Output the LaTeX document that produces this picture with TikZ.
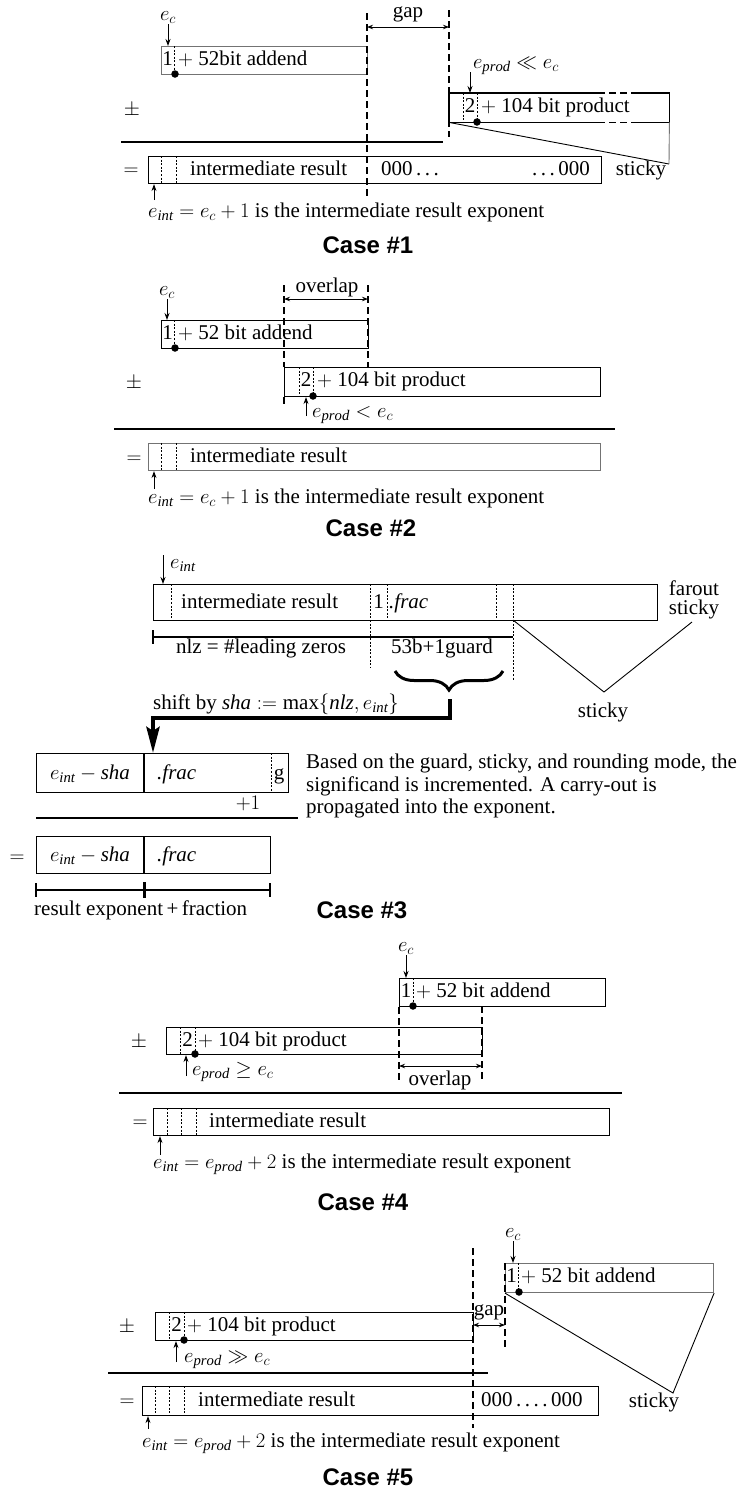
\documentclass[tikz,border=0pt]{standalone}
\usepackage{fontspec}
\setmainfont{Liberation Serif}
\newfontfamily\headfont{Liberation Sans}
\usetikzlibrary{arrows.meta,decorations.pathreplacing,calc}
\tikzset{
  txt/.style={inner sep=0pt, font=\fontsize{21}{24}\selectfont, text height=14pt, text depth=4pt},
  para/.style={inner sep=0pt, font=\fontsize{21}{24}\selectfont, anchor=base west},
  frame/.style={draw, line width=1.1pt, inner sep=0pt, anchor=north west},
  hollow/.style={inner sep=0pt, anchor=north west},
  edge/.style={line width=1.1pt},
  thin/.style={line width=0.9pt},
  sep/.style={dash pattern=on 2pt off 1.6pt, line width=0.9pt},
  guide/.style={dash pattern=on 7pt off 4pt, line width=1.1pt},
  pin/.style={-{Stealth[length=7pt,width=5pt]}, line width=0.9pt},
  span/.style={{Stealth[length=6pt,width=4.5pt]}-{Stealth[length=6pt,width=4.5pt]}, line width=0.9pt},
  bit/.style={circle, fill, inner sep=0pt, minimum size=7.5pt},
  head/.style={inner sep=0pt, font=\headfont\bfseries\fontsize{24}{28}\selectfont},
  rule/.style={line width=1.1pt},
  faint/.style={draw=black!55},
}
\begin{document}
\begin{tikzpicture}[x=1pt,y=-1pt]
\useasboundingbox[fill=white] (0,0) rectangle (755,1489);

%% ---------------- Case 1 ----------------
\node[txt] (c1ec) at (168,15) {$e_c$};
\node[frame, faint, minimum width=206pt, minimum height=28pt] (c1add) at (161,46) {};
\draw[pin] (c1ec.south) -- (c1ec.south |- c1add.north);
\draw[sep] (174,46) -- (174,74);
\node[txt] (c1one) at (167.5,60) {1};
\node[txt, anchor=west] (c1addt) at (178,60) {$+$ 52bit addend};
\node[bit] (c1d1) at (175,74) {};
\coordinate (c1ga) at (367,13);
\coordinate (c1gb) at (449,10);
\draw[guide] (c1ga) -- (367,197);
\draw[guide] (c1gb) -- (449,137);
\draw[span] (367,27) -- (449,27);
\node[txt] (c1gap) at (408,12) {gap};
\node[txt] (c1ep) at (516,63) {$e_{\mathit{prod}} \ll e_c$};
\node[hollow, minimum width=220pt, minimum height=29pt] (c1prod) at (449,93) {};
\draw[edge] ($(c1prod.north west)+(149,0)$) -- (c1prod.north west) -- (c1prod.south west) -- ++(149,0);
\draw[edge] ($(c1prod.north east)+(-37,0)$) -- (c1prod.north east) -- (c1prod.south east) -- ++(-37,0);
\draw[guide] ($(c1prod.north west)+(149,0)$) -- ++(34,0);
\draw[guide] ($(c1prod.south west)+(149,0)$) -- ++(34,0);
\coordinate (c1pa) at (470,72);
\draw[pin] (c1pa) -- (c1pa |- c1prod.north);
\draw[sep] (463,93) -- (463,122);
\draw[sep] (477,93) -- (477,122);
\node[txt] (c1two) at (470,107.5) {2};
\node[txt, anchor=west] (c1prodt) at (481,107.5) {$+$ 104 bit product};
\node[bit] (c1d2) at (477,122) {};
\coordinate (c1st) at (669,164);
\draw[thin] (c1prod.south west) -- (c1st);
\draw[thin, faint] (c1prod.south east) -- (c1st);
\node[txt] (c1stick) at (641,170) {sticky};
\node[txt] (c1pm) at (132,110) {$\pm$};
\draw[rule] (121,142) -- (443,142);
\node[txt] (c1eq) at (131,170) {$=$};
\node[frame, minimum width=453pt, minimum height=27pt] (c1res) at (148,156) {};
\draw[sep] (161,156) -- (161,183);
\draw[sep] (176,156) -- (176,183);
\node[txt, anchor=west] (c1rt) at (190,170) {intermediate result};
\node[txt, anchor=west] (c1z1) at (381,170) {000\,.\,.\,.};
\node[txt, anchor=east] (c1z2) at (590,170) {.\,.\,.\,000};
\coordinate (c1up) at (154,200);
\draw[pin] (c1up) -- (c1up |- c1res.south);
\node[txt, anchor=west] (c1eint) at (148,212) {$e_{\mathit{int}} = e_c + 1$ is the intermediate result exponent};
\node[head] (c1cap) at (368,245) {Case \#1};

%% ---------------- Case 2 ----------------
\node[txt] (c2ec) at (167,290) {$e_c$};
\node[frame, minimum width=207pt, minimum height=28pt] (c2add) at (161,320) {};
\draw[pin] (c2ec.south) -- (c2ec.south |- c2add.north);
\draw[sep] (174,320) -- (174,348);
\node[txt] (c2one) at (167.5,334) {1};
\node[txt, anchor=west] (c2addt) at (178,334) {$+$ 52 bit addend};
\node[bit] (c2d1) at (175,348) {};
\node[frame, minimum width=316pt, minimum height=29pt] (c2prod) at (284,367) {};
\coordinate (c2oa) at (284,285);
\coordinate (c2ob) at (368,285);
\draw[guide] (c2oa) -- (c2oa |- c2prod.north);
\draw[guide] (c2ob) -- (c2ob |- c2prod.north);
\draw[edge] (c2prod.south west) -- ++(0,7);
\draw[span] (284,299) -- (368,299);
\node[txt] (c2ov) at (327,287) {overlap};
\draw[sep] (299,367) -- (299,396);
\draw[sep] (313,367) -- (313,396);
\node[txt] (c2two) at (306,381.5) {2};
\node[txt, anchor=west] (c2prodt) at (317,381.5) {$+$ 104 bit product};
\node[bit] (c2d2) at (313,396) {};
\coordinate (c2pa) at (306,416);
\draw[pin] (c2pa) -- (c2pa |- c2prod.south);
\node[txt, anchor=west] (c2ep) at (312,412) {$e_{\mathit{prod}} < e_c$};
\node[txt] (c2pm) at (134,383) {$\pm$};
\draw[rule] (114,429) -- (615,429);
\node[txt] (c2eq) at (134,458) {$=$};
\node[frame, faint, minimum width=452pt, minimum height=27pt] (c2res) at (148,443) {};
\draw[sep] (161,443) -- (161,470);
\draw[sep] (176,443) -- (176,470);
\node[txt, anchor=west] (c2rt) at (190,457) {intermediate result};
\coordinate (c2up) at (154,489);
\draw[pin] (c2up) -- (c2up |- c2res.south);
\node[txt, anchor=west] (c2eint) at (148,498) {$e_{\mathit{int}} = e_c + 1$ is the intermediate result exponent};
\node[head] (c2cap) at (371,528) {Case \#2};

%% ---------------- Case 3 ----------------
\node[frame, minimum width=504pt, minimum height=36pt] (c3box) at (153,584) {};
\coordinate (c3ea) at (163,555);
\draw[pin] (c3ea) -- (c3ea |- c3box.north);
\node[txt, anchor=west] (c3ei) at (170,563) {$e_{\mathit{int}}$};
\draw[sep] (171,584) -- (171,620);
\draw[sep] (370,584) -- (370,668);
\draw[sep] (387,584) -- (387,620);
\draw[sep] (496,584) -- (496,620);
\draw[sep] (513,584) -- (513,680);
\node[txt, anchor=west] (c3rt) at (181,603) {intermediate result};
\node[txt] (c3one) at (378.5,603) {1};
\node[txt, anchor=west] (c3fr) at (389,603) {\itshape .frac};
\node[txt] (c3far) at (694,590) {farout};
\node[txt] (c3fst) at (694,609) {sticky};
\draw[edge] (153,637) -- (513,637);
\draw[edge] (153,630) -- (153,644);
\node[txt] (c3nlz) at (261,648) {nlz = \#leading zeros};
\node[txt] (c3g) at (442,648) {53b+1guard};
\draw[decorate, decoration={brace, mirror, amplitude=19pt}, line width=3pt] (395,671) -- (503,671);
\coordinate (c3tip) at (450,699);
\coordinate (c3v) at (604,692);
\draw[thin] (513,620) -- (c3v) -- (692,622);
\node[txt] (c3st) at (603,712) {sticky};
\node[txt, anchor=west] (c3sh) at (153,704) {shift by $\mathit{sha} := \max\{\mathit{nlz}, e_{\mathit{int}}\}$};
\node[frame, minimum width=252pt, minimum height=39pt] (c3a) at (36,753) {};
\coordinate (c3bend) at (153,718);
\draw[line width=4.5pt, line join=miter, -{Stealth[length=26pt,width=13pt,inset=4pt]}]
  (c3tip) -- (450,718) -- (c3bend) -- (c3bend |- c3a.north);
\draw[edge] (144,753) -- (144,792);
\draw[sep] (271,753) -- (271,792);
\node[txt] (c3ax) at (90,774) {$e_{\mathit{int}} - \mathit{sha}$};
\node[txt, anchor=west] (c3af) at (157,774) {\itshape .frac};
\node[txt] (c3ag) at (279,774) {g};
\node[txt] (c3inc) at (248,804) {$+1$};
\draw[rule] (36,818) -- (298,818);
\node[para] (c3p1) at (306,768) {Based on the guard, sticky, and rounding mode, the};
\node[para] (c3p2) at (306,791) {significand is incremented. A carry-out is};
\node[para] (c3p3) at (306,813) {propagated into the exponent.};
\node[txt] (c3eq) at (17,857) {$=$};
\node[frame, minimum width=234pt, minimum height=37pt] (c3b) at (36,836) {};
\draw[edge] (144,836) -- (144,873);
\node[txt] (c3bx) at (90,856) {$e_{\mathit{int}} - \mathit{sha}$};
\node[txt, anchor=west] (c3bf) at (157,856) {\itshape .frac};
\draw[edge] (36,890) -- (270,890);
\draw[edge] (36,883) -- (36,897);
\draw[edge] (270,883) -- (270,897);
\draw[line width=3pt] (144,882) -- (144,898);
\node[txt, anchor=west] (c3res) at (34,910) {result exponent\,+\,fraction};
\node[head] (c3cap) at (362,910) {Case \#3};

%% ---------------- Case 4 ----------------
\node[txt] (c4ec) at (406,946) {$e_c$};
\node[frame, minimum width=206pt, minimum height=28pt] (c4add) at (399,978) {};
\draw[pin] (c4ec.south) -- (c4ec.south |- c4add.north);
\draw[sep] (413,978) -- (413,1006);
\node[txt] (c4one) at (406,992) {1};
\node[txt, anchor=west] (c4addt) at (416,992) {$+$ 52 bit addend};
\node[bit] (c4d1) at (413,1006) {};
\node[frame, minimum width=316pt, minimum height=27pt] (c4prod) at (166,1027) {};
\draw[guide] (c4add.south west) -- (399,1081);
\draw[guide] (482,1006) -- (482,1081);
\draw[sep] (180,1027) -- (180,1054);
\draw[sep] (195,1027) -- (195,1054);
\node[txt] (c4two) at (187.5,1041) {2};
\node[txt, anchor=west] (c4prodt) at (198,1041) {$+$ 104 bit product};
\node[bit] (c4d2) at (195,1054) {};
\node[txt] (c4pm) at (139,1042) {$\pm$};
\coordinate (c4pa) at (186,1076);
\draw[pin] (c4pa) -- (c4pa |- c4prod.south);
\node[txt, anchor=west] (c4ep) at (192,1070) {$e_{\mathit{prod}} \geq e_c$};
\draw[span] (399,1066) -- (482,1066);
\node[txt] (c4ov) at (440,1080) {overlap};
\draw[rule] (119,1093) -- (622,1093);
\node[txt] (c4eq) at (140,1122) {$=$};
\node[frame, minimum width=456pt, minimum height=27pt] (c4res) at (153,1108) {};
\draw[sep] (167,1108) -- (167,1135);
\draw[sep] (181,1108) -- (181,1135);
\draw[sep] (196,1108) -- (196,1135);
\node[txt, anchor=west] (c4rt) at (209,1122) {intermediate result};
\coordinate (c4up) at (160,1155);
\draw[pin] (c4up) -- (c4up |- c4res.south);
\node[txt, anchor=west] (c4eint) at (153,1163) {$e_{\mathit{int}} = e_{\mathit{prod}} + 2$ is the intermediate result exponent};
\node[head] (c4cap) at (363,1202) {Case \#4};

%% ---------------- Case 5 ----------------
\node[txt] (c5ec) at (513,1232) {$e_c$};
\node[frame, faint, minimum width=208pt, minimum height=29pt] (c5add) at (505,1263) {};
\draw[pin] (c5ec.south) -- (c5ec.south |- c5add.north);
\draw[sep] (518,1263) -- (518,1292);
\node[txt] (c5one) at (511.5,1277.5) {1};
\node[txt, anchor=west] (c5addt) at (521,1277.5) {$+$ 52 bit addend};
\node[bit] (c5d1) at (519,1292) {};
\node[frame, minimum width=318pt, minimum height=28pt] (c5prod) at (155,1312) {};
\draw[guide] (473,1248) -- (473,1428);
\draw[guide] (c5add.north west) -- (505,1347);
\draw[span] (473,1325) -- (505,1325);
\node[txt] (c5gap) at (489,1310) {gap};
\draw[sep] (169,1312) -- (169,1340);
\draw[sep] (184,1312) -- (184,1340);
\node[txt] (c5two) at (176.5,1326) {2};
\node[txt, anchor=west] (c5prodt) at (187,1326) {$+$ 104 bit product};
\node[bit] (c5d2) at (184,1340) {};
\node[txt] (c5pm) at (127,1327) {$\pm$};
\coordinate (c5pa) at (176,1362);
\draw[pin] (c5pa) -- (c5pa |- c5prod.south);
\node[txt, anchor=west] (c5ep) at (184,1357) {$e_{\mathit{prod}} \gg e_c$};
\coordinate (c5v) at (673,1393);
\draw[thin] (c5add.south west) -- (c5v) -- (c5add.south east);
\draw[rule] (108,1373) -- (488,1373);
\node[txt] (c5eq) at (127,1401) {$=$};
\node[frame, minimum width=456pt, minimum height=29pt] (c5res) at (142,1386) {};
\draw[sep] (155,1386) -- (155,1415);
\draw[sep] (169,1386) -- (169,1415);
\draw[sep] (184,1386) -- (184,1415);
\node[txt, anchor=west] (c5rt) at (198,1401) {intermediate result};
\node[txt, anchor=west] (c5z) at (481,1401) {000\,.\,.\,.\,.\,000};
\node[txt] (c5st) at (654,1402) {sticky};
\coordinate (c5up) at (148,1429);
\draw[pin] (c5up) -- (c5up |- c5res.south);
\node[txt, anchor=west] (c5eint) at (142,1442) {$e_{\mathit{int}} = e_{\mathit{prod}} + 2$ is the intermediate result exponent};
\node[head] (c5cap) at (368,1477) {Case \#5};
\end{tikzpicture}
\end{document}
